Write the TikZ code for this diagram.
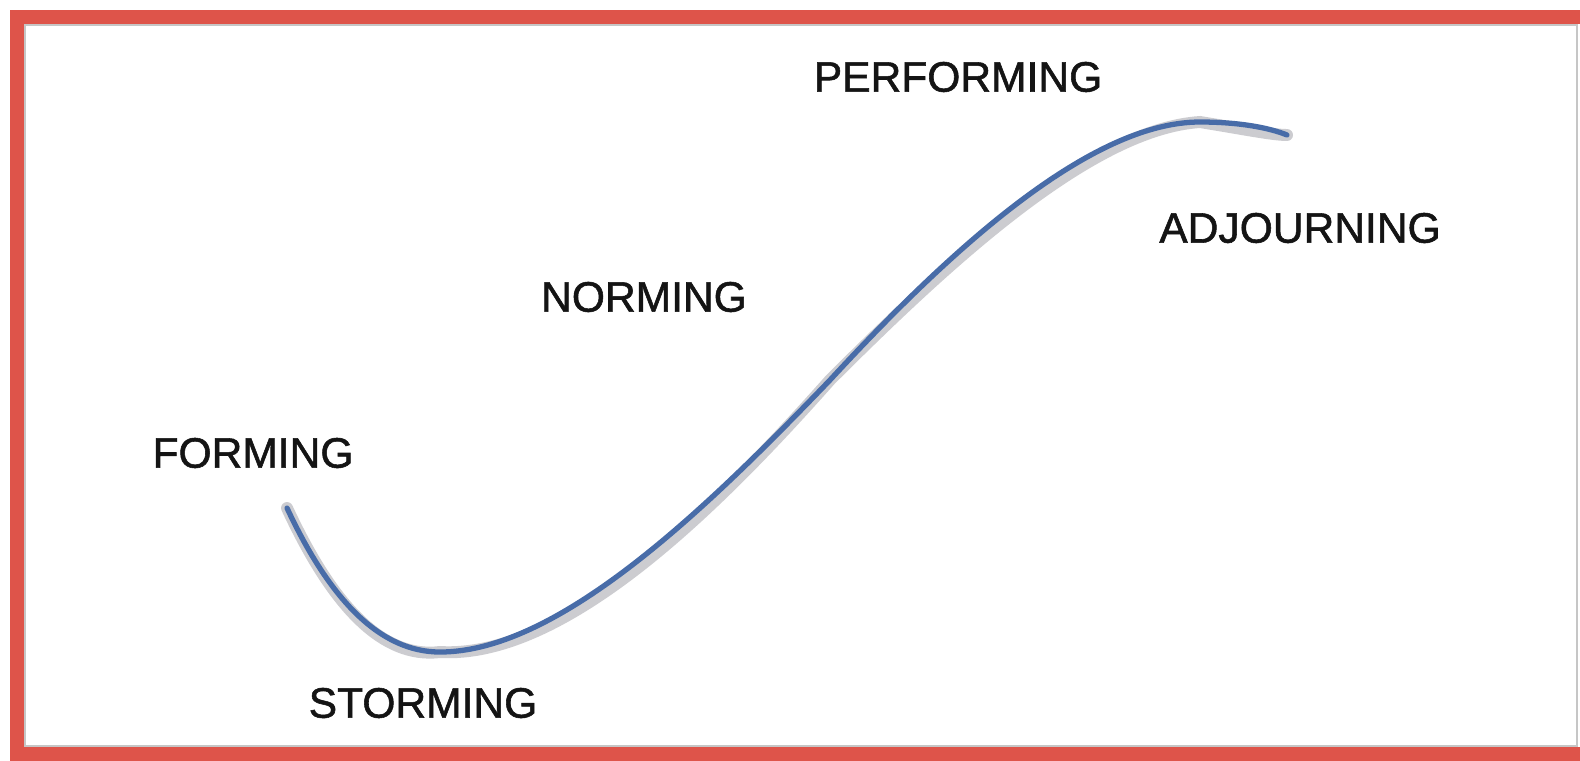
\documentclass[tikz,border=0pt]{standalone}
\usepackage{fontspec}
\setmainfont{Liberation Sans}
\newfontfamily\labfont[FakeBold=1.3]{Liberation Sans}
\definecolor{framered}{RGB}{222,84,74}
\definecolor{curveblue}{RGB}{72,108,168}
\definecolor{shadowgrey}{RGB}{204,204,208}
\begin{document}
\begin{tikzpicture}[x=0.01cm,y=-0.01cm,
  stage/.style={inner sep=0pt,font=\labfont\fontsize{12.1}{14}\selectfont,text=black!92}]
\useasboundingbox (0,0) rectangle (1580,760);
\clip (0,0) rectangle (1580,760);
\fill[white] (0,0) rectangle (1580,760);
% inner thin grey frame
\draw[gray!45,line width=0.4pt] (25,25) rectangle (1577,746);
% red frame
\draw[framered,line width=3.97pt] (17,17) rectangle (1640,753.5);
% curve points
\coordinate (p0) at (287,508);
\coordinate (p1) at (440,652);
\coordinate (p2) at (830,380);
\coordinate (p3) at (1200,122);
\coordinate (p4) at (1287,135);
% shadow
\begin{scope}[shift={(3,7)}]
\draw[shadowgrey,line width=3.4pt,line cap=round]
  (p0) .. controls (330,600) and (380,652) .. (p1)
       .. controls (560,652) and (710,505) .. (p2)
       .. controls (950,250) and (1090,122) .. (p3)
       .. controls (1240,122) and (1270,128) .. (p4);
\end{scope}
% main curve
\draw[curveblue,line width=1.5pt,line cap=round]
  (p0) .. controls (330,600) and (380,652) .. (p1)
       .. controls (560,652) and (710,505) .. (p2)
       .. controls (950,250) and (1090,122) .. (p3)
       .. controls (1240,122) and (1270,128) .. (p4);
% labels
\node[stage] (performing) at (958,77) {PERFORMING};
\node[stage] (adjourning) at (1300,228) {ADJOURNING};
\node[stage] (norming) at (644,297) {NORMING};
\node[stage] (forming) at (253,453) {FORMING};
\node[stage] (storming) at (423,703) {STORMING};
\end{tikzpicture}
\end{document}
